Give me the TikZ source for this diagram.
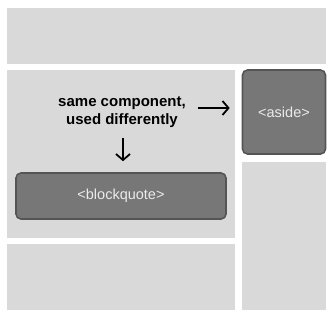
\documentclass[tikz,border=0pt]{standalone}
\usepackage{fontspec}
\setmainfont{Liberation Sans}
\usetikzlibrary{arrows.meta}
\definecolor{panelgray}{HTML}{D9D9D9}
\definecolor{boxgray}{HTML}{777777}
\definecolor{boxedge}{HTML}{555555}
\tikzset{
  panel/.style={fill=panelgray, inner sep=0pt, anchor=north west},
  element/.style={fill=boxgray, draw=boxedge, line width=1.6pt, rounded corners=5pt,
    inner sep=0pt, text=white!92!black, font=\fontsize{14.5}{16}\selectfont},
  pointer/.style={-{Straight Barb[length=6pt,width=14pt]}, line width=1.8pt}
}
\begin{document}
\begin{tikzpicture}[x=1pt,y=-1pt]
  \useasboundingbox (0,0) rectangle (334,317);
  % layout panels
  \node[panel, minimum width=319pt, minimum height=56pt] (header) at (7,8) {};
  \node[panel, minimum width=228pt, minimum height=168pt] (main) at (7,70) {};
  \node[panel, minimum width=228pt, minimum height=66pt] (footer) at (7,244) {};
  \node[panel, minimum width=84pt, minimum height=148pt] (side) at (242,162) {};
  % elements
  \node[element, minimum width=83pt, minimum height=84pt] (aside) at (284,112) {<aside>};
  \node[element, minimum width=210pt, minimum height=46pt] (bq) at (121,196) {<blockquote>};
  \node[font=\bfseries\fontsize{15}{18}\selectfont, align=center, inner sep=2pt] (note) at (122,112)
    {same component,\\used differently};
  \draw[pointer, shorten <=10pt, shorten >=12pt] ([yshift=4pt]note.east) to ([yshift=4pt]aside.west);
  \draw[pointer, shorten <=8pt, shorten >=11pt] ([xshift=1pt]note.south) to ([xshift=1pt]note.south |- bq.north);
\end{tikzpicture}
\end{document}
